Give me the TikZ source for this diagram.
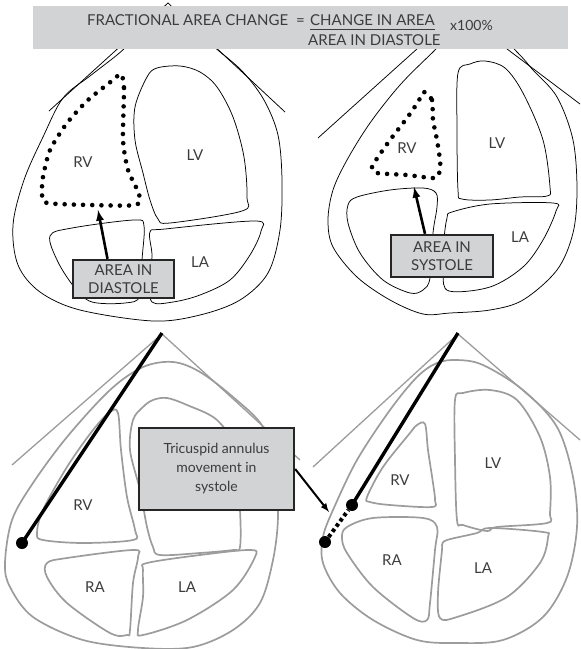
\documentclass[tikz,border=0pt]{standalone}
\usepackage{fontspec}
\setmainfont{Lato}
\usepackage{xcolor}
\usepackage{tikz}
\usetikzlibrary{calc}
\usetikzlibrary{arrows}

\definecolor{boxgray}{HTML}{D1D3D4}
\definecolor{wallgray}{HTML}{9C9C9C}
\definecolor{textgray}{HTML}{3C3C3C}

\tikzset{
  cavity/.style={smooth cycle, tension=0.55},
  thinwall/.style={line width=0.75pt},
  greywall/.style={line width=1.7pt, draw=wallgray},
  greyfan/.style={line width=1.3pt, draw=wallgray},
  chamber/.style={text=textgray, font=\fontsize{15}{17}\selectfont, inner sep=0pt},
  areabox/.style={draw=black!85, line width=2.4pt, fill=boxgray, text=textgray, align=center,
    font=\fontsize{15}{17.5}\selectfont, inner sep=0pt},
  rvdots/.style={line width=4.6pt, line cap=round, dash pattern=on 0pt off 9.2pt},
  pointer/.style={->, >=latex, line width=2.6pt},
  hinge/.style={fill=black, circle, inner sep=0pt, minimum size=12pt}
}

\begin{document}
\begin{tikzpicture}[x=1pt, y=-1pt]
\useasboundingbox (0,0) rectangle (581,649);

% --- top row: RV area, diastole (left) and systole (right)
\draw[thinwall] (49,111) -- (168,3) -- (285,112);
\draw[thinwall] (318,138) -- (458,12) -- (580,104);

\draw[thinwall] plot[cavity] coordinates {(168,18) (140,35) (117,55) (90,76) (63,98) (43,137) (24,180) (13,225) (18,265) (40,292) (80,310) (153,321) (200,315) (240,300) (268,273) (280,230) (282,180) (278,135) (264,100) (243,72) (219,51) (195,32)};
\draw[thinwall] plot[cavity] coordinates {(147,77) (157,68) (180,66) (200,72) (217,87) (233,117) (244,157) (247,197) (242,211) (170,223) (158,219) (150,200) (143,173) (135,140) (135,107)};
\draw[thinwall] plot[cavity] coordinates {(50,236) (72,228) (134,220) (144,226) (142,260) (140,296) (125,303) (92,302) (75,288) (58,262)};
\draw[thinwall] plot[cavity] coordinates {(150,232) (165,229) (255,221) (261,231) (250,255) (230,280) (200,295) (173,302) (152,302) (150,280) (152,255)};
\draw[rvdots] plot[smooth cycle, tension=0.4] coordinates {(121,74) (124,88) (123,140) (128,170) (139,194) (136,205) (90,205) (47,203) (42,195) (43,177) (50,150) (67,123) (88,100) (113,80)};

\draw[thinwall] plot[cavity] coordinates {(475,12) (433,52) (400,85) (370,123) (347,160) (333,190) (328,220) (333,247) (357,277) (390,300) (423,314) (450,313) (490,310) (523,300) (557,270) (573,233) (577,190) (573,140) (557,97) (533,70) (517,52)};
\draw[thinwall] plot[cavity] coordinates {(458,73) (470,64) (485,61) (505,68) (523,93) (543,140) (550,187) (547,196) (520,197) (490,200) (462,199) (458,190) (457,130)};
\draw[thinwall] plot[cavity] coordinates {(447,218) (452,212) (490,204) (553,203) (556,211) (543,240) (523,267) (490,287) (449,291) (443,273) (444,240)};
\draw[thinwall] plot[cavity] coordinates {(348,205) (357,197) (390,190) (423,188) (436,193) (437,207) (433,233) (430,278) (423,290) (410,293) (383,280) (360,253) (348,223)};
\draw[rvdots] plot[smooth cycle, tension=0.4] coordinates {(424,92) (432,100) (433,120) (437,140) (440,160) (440,170) (435,178) (407,175) (377,173) (372,167) (378,157) (390,140) (407,118) (418,102)};

\node[chamber] (rv1) at (83,162) {RV};
\node[chamber] (lv1) at (195,155) {LV};
\node[chamber] (la1) at (200,262) {LA};
\node[chamber] (rv2) at (407,148) {RV};
\node[chamber] (lv2) at (497,143) {LV};
\node[chamber] (la2) at (520,237) {LA};

% formula banner
\node[fill=boxgray, anchor=north west, minimum width=535pt, minimum height=43pt, inner sep=0pt] (fac) at (33,6) {};
\begin{scope}[every node/.style={text=textgray, font=\fontsize{15}{17}\selectfont, inner sep=0pt}]
  \node[anchor=base west] (facname) at (87,25) {FRACTIONAL AREA CHANGE};
  \node[anchor=base west] (faceq) at (296,25) {=};
  \node[anchor=base west] (facnum) at (310,25) {CHANGE IN AREA};
  \node[anchor=base west] (facden) at (308,45) {AREA IN DIASTOLE};
  \node[anchor=base west, font=\fontsize{14}{16}\selectfont] (facpct) at (450,30) {x100\%};
\end{scope}
\draw[line width=0.8pt, textgray] ([yshift=-4pt]facnum.base west) -- ([yshift=-4pt]facnum.base east);

\node[areabox, minimum width=101pt, minimum height=38pt] (diastole) at (123.5,279) {AREA IN\\DIASTOLE};
\node[areabox, minimum width=102pt, minimum height=42pt] (systole) at (442,256) {AREA IN\\SYSTOLE};
\coordinate (rvfloor1) at (98,210);
\coordinate (rvfloor2) at (414,187);
\draw[pointer] ([xshift=-16pt]diastole.north) -- (rvfloor1);
\draw[pointer] ([xshift=-17pt]systole.north) -- (rvfloor2);

% --- bottom row: tricuspid annulus excursion
\draw[greyfan] (12,465) -- (162,334) -- (300,460);
\draw[greyfan] (313,467) -- (458,334) -- (580,440);

\draw[greywall] plot[cavity] coordinates {(173,362) (200,372) (233,397) (263,427) (275,470) (278,517) (273,560) (260,603) (233,630) (193,647) (143,648) (83,640) (33,617) (10,587) (5,563) (12,520) (33,483) (67,437) (110,390) (143,367)};
\draw[greywall] plot[cavity] coordinates {(110,412) (118,413) (121,450) (127,497) (135,530) (133,540) (83,543) (43,540) (37,533) (43,510) (67,467) (93,430)};
\draw[greywall] plot[cavity] coordinates {(143,407) (153,400) (167,398) (187,405) (217,420) (235,450) (240,510) (240,547) (233,550) (200,553) (160,555) (153,547) (147,527) (140,490) (130,450) (133,420)};
\draw[greywall] plot[cavity] coordinates {(47,563) (67,558) (133,550) (138,557) (133,583) (130,630) (127,635) (110,633) (67,603) (47,577)};
\draw[greywall] plot[cavity] coordinates {(147,563) (200,555) (250,550) (255,557) (233,590) (187,620) (143,635) (138,630) (143,597) (143,570)};

\draw[greywall] plot[cavity] coordinates {(457,360) (483,365) (523,390) (557,427) (573,477) (577,527) (567,577) (543,617) (503,640) (457,643) (417,640) (373,620) (340,593) (323,563) (323,537) (333,510) (357,460) (390,410) (417,377) (437,363)};
\draw[greywall] plot[cavity] coordinates {(417,425) (425,424) (428,450) (433,483) (435,500) (432,507) (390,505) (370,502) (367,497) (383,467) (410,433)};
\draw[greywall] plot[cavity] coordinates {(455,400) (463,393) (490,390) (517,400) (540,437) (550,477) (550,513) (547,523) (497,527) (487,531) (463,525) (457,520) (455,460)};
\draw[greywall] plot[cavity] coordinates {(342,537) (347,527) (373,518) (423,518) (437,527) (435,550) (430,603) (427,620) (413,618) (373,587) (347,553)};
\draw[greywall] plot[cavity] coordinates {(442,545) (447,540) (477,533) (490,528) (543,532) (548,537) (540,563) (507,597) (457,617) (440,618) (438,593) (442,550)};

\node[chamber] (rv3) at (83,505) {RV};
\node[chamber] (ra3) at (95,587) {RA};
\node[chamber] (la3) at (187,587) {LA};
\node[chamber] (rv4) at (400,480) {RV};
\node[chamber] (lv4) at (493,463) {LV};
\node[chamber] (ra4) at (392,560) {RA};
\node[chamber] (la4) at (483,568) {LA};

% probe lines to the lateral annulus
\coordinate (probe3) at (162,333);
\coordinate (probe4) at (458,333);
\node[hinge] (hinge3) at (22,543) {};
\node[hinge] (hingeD) at (325,542) {};
\node[hinge] (hingeS) at (352,505) {};
\draw[line width=3.4pt] (probe3) -- (hinge3.center);
\draw[line width=3.4pt] (probe4) -- (hingeS.center);
\draw[line width=4pt, dash pattern=on 3.5pt off 3pt] (hingeD) -- (hingeS);

\node[areabox, minimum width=155pt, minimum height=82pt, font=\fontsize{14}{19}\selectfont] (tapse) at (216.5,469) {Tricuspid annulus\\movement in\\systole};
\coordinate (annulus) at (329,512);
\draw[->, >=latex, line width=2pt] (tapse.east) -- (annulus);
\end{tikzpicture}
\end{document}
